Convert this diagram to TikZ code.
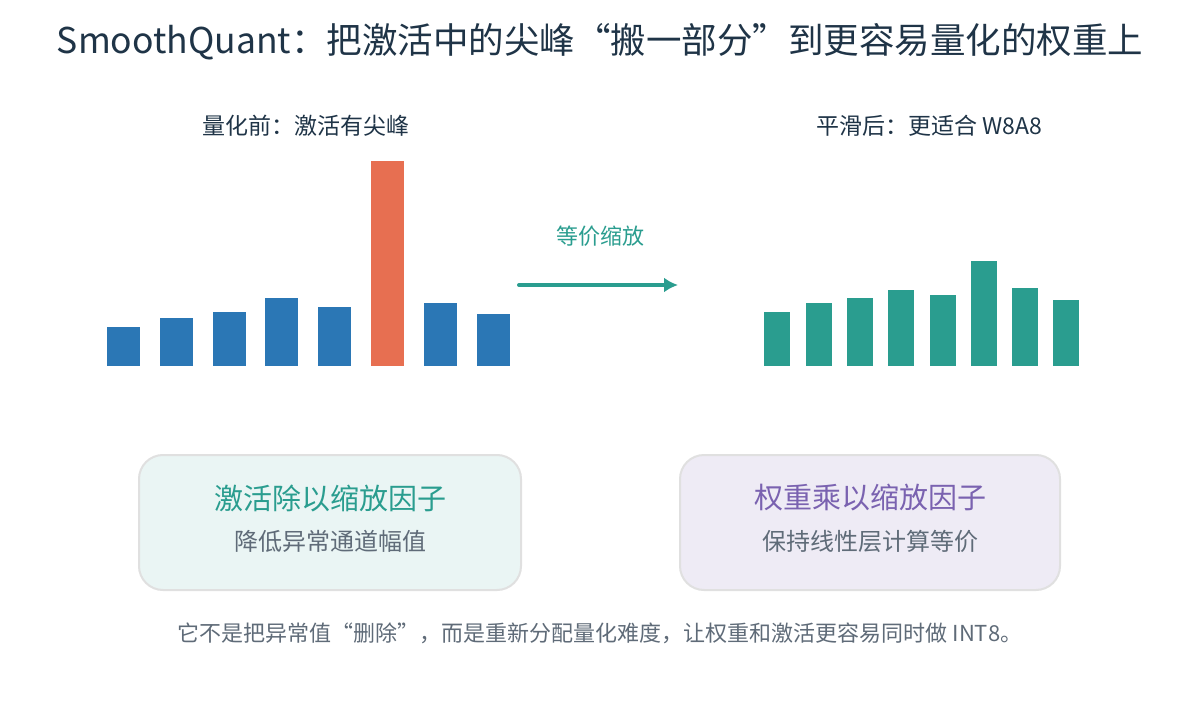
\documentclass[tikz,border=0pt]{standalone}
\usepackage{fontspec}
\usetikzlibrary{arrows.meta}
\setmainfont{Noto Sans CJK SC}
\begin{document}
\definecolor{bblue}{HTML}{2B77B5}
\definecolor{borange}{HTML}{E76F51}
\definecolor{teal}{HTML}{2A9D8F}
\definecolor{dark}{HTML}{1F3447}
\definecolor{purp}{HTML}{7A62B0}
\definecolor{gray}{HTML}{5F6B78}
\begin{tikzpicture}[x=1pt,y=-1pt,
  lbar/.style={fill=bblue,draw=none},
  rbar/.style={fill=teal,draw=none},
  card/.style={rounded corners=24pt,line width=2pt,draw=black!12},
  hd/.style={font=\fontsize{23}{27}\selectfont,text=dark}]
\useasboundingbox (0,0) rectangle (1200,706);
\fill[white] (0,0) rectangle (1200,706);
\node[font=\fontsize{35.5}{40}\selectfont,text=dark] (title) at (600,42) {SmoothQuant：把激活中的尖峰“搬一部分”到更容易量化的权重上};
\node[hd] (lh) at (306,126) {量化前：激活有尖峰};
\node[hd] (rh) at (929,126) {平滑后：更适合 W8A8};
\foreach \x/\t in {107/327,160/318,213/312,265/298,318/307,424/303,477/314}
  \fill[lbar] (\x,\t) rectangle (\x+33,366);
\fill[borange] (371,161) rectangle (404,366);
\foreach \x/\t in {764/312,806/303,847/298,888/290,930/295,971/261,1012/288,1053/300}
  \fill[rbar] (\x,\t) rectangle (\x+26,366);
\coordinate (a1) at (519,285); \coordinate (a2) at (678,285);
\draw[teal,line width=4pt,line cap=round,-{Latex[length=14pt,width=15pt]}] (a1) -- (a2);
\node[font=\fontsize{22}{26}\selectfont,text=teal] (al) at (600,236) {等价缩放};
\node[card,fill=teal!10,minimum width=382pt,minimum height=135pt] (L) at (330,522.5) {};
\node[card,fill=purp!13,minimum width=380pt,minimum height=135pt] (R) at (870,522.5) {};
\node[font=\fontsize{29}{34}\selectfont,text=teal] at (330,498) {激活除以缩放因子};
\node[font=\fontsize{24}{28}\selectfont,text=gray] at (330,541) {降低异常通道幅值};
\node[font=\fontsize{29}{34}\selectfont,text=purp] at (870,498) {权重乘以缩放因子};
\node[font=\fontsize{24}{28}\selectfont,text=gray] at (870,541) {保持线性层计算等价};
\node[font=\fontsize{22}{26}\selectfont,text=gray] (foot) at (600,633) {它不是把异常值“删除”，而是重新分配量化难度，让权重和激活更容易同时做 INT8。};
\end{tikzpicture}
\end{document}
